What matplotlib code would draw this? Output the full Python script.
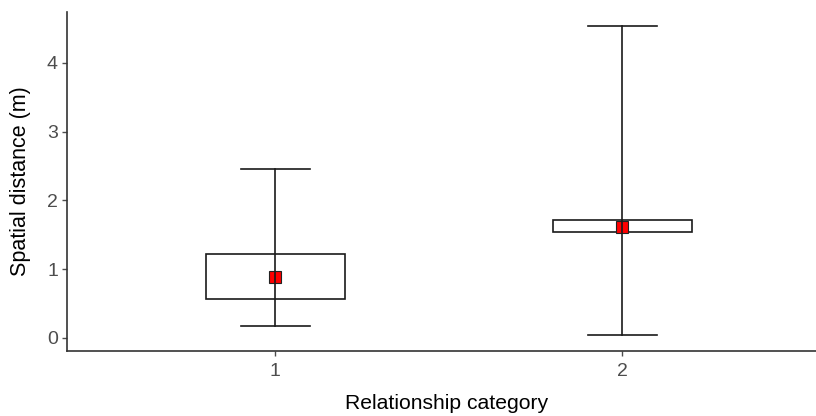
import matplotlib
matplotlib.use("Agg")
import matplotlib.pyplot as plt
from matplotlib.patches import Rectangle

plt.rcParams['font.family'] = ['Liberation Sans', 'DejaVu Sans']

categories = [1, 2]
tick_labels = ["1", "2"]
whisker_low = [0.18, 0.04]
box_low = [0.56, 1.54]
box_high = [1.22, 1.71]
whisker_high = [2.46, 4.53]
means = [0.89, 1.62]

fig = plt.figure(figsize=(8.16, 4.16), dpi=100)
ax = fig.add_axes([67/816, 1-351/416, 1-67/816, (351-12)/416])

box_w = 0.4
cap_w = 0.2
lc = '#1a1a1a'
lw = 1.2
for x, wl, bl, bh, wh, m in zip(categories, whisker_low, box_low, box_high, whisker_high, means):
    ax.add_patch(Rectangle((x - box_w/2, bl), box_w, bh - bl, facecolor='white',
                           edgecolor=lc, linewidth=lw, zorder=2))
    ax.plot([x], [m], marker='s', markersize=8.5, markerfacecolor='red',
            markeredgecolor='#222222', markeredgewidth=0.8, linestyle='none', zorder=3)
    ax.plot([x, x], [wl, wh], color=lc, linewidth=lw, zorder=4)
    ax.plot([x - cap_w/2, x + cap_w/2], [wl, wl], color=lc, linewidth=lw, zorder=4)
    ax.plot([x - cap_w/2, x + cap_w/2], [wh, wh], color=lc, linewidth=lw, zorder=4)

ax.set_xlim(0.4, 0.4 + 749/347)
ax.set_ylim(-0.19, 4.74)
ax.set_xticks(categories)
ax.set_xticklabels(tick_labels)
ax.set_yticks([0, 1, 2, 3, 4])
ax.tick_params(colors='#4d4d4d', labelsize=14, length=3.5, width=1, labelcolor='#4d4d4d')
ax.tick_params(axis='x', pad=5)
ax.tick_params(axis='y', pad=3)
for s in ['top', 'right']:
    ax.spines[s].set_visible(False)
for s in ['left', 'bottom']:
    ax.spines[s].set_color('#333333')
    ax.spines[s].set_linewidth(1.2)

ax.set_xlabel('Relationship category', fontsize=15.2, color='black')
ax.set_ylabel('Spatial distance (m)', fontsize=15.5, color='black')
ax.xaxis.set_label_coords((447-67)/749, -43/339)
ax.yaxis.set_label_coords(-36/749, 0.5)

fig.savefig('out.png', dpi=100)
